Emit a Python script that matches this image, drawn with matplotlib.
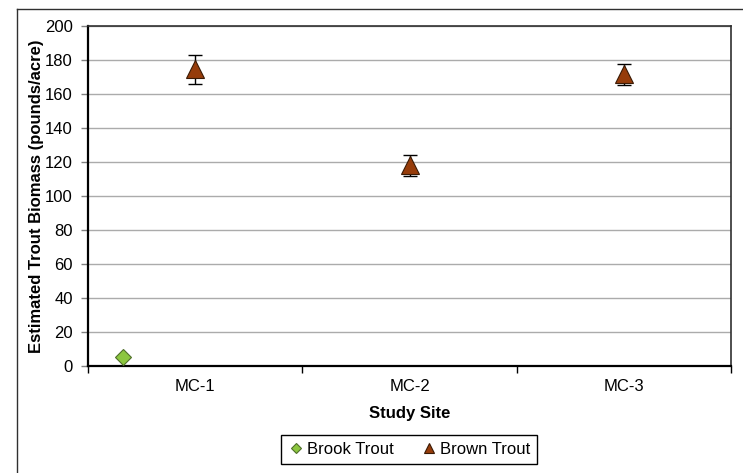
import matplotlib.pyplot as plt
from matplotlib.lines import Line2D
import numpy as np

plt.rcParams['font.family'] = ['Liberation Sans', 'DejaVu Sans']
plt.rcParams['font.size'] = 12

# --- Donnees ---
sites = ['MC-1', 'MC-2', 'MC-3']
brook_sites = ['MC-1']
brook_biomass = [5.5]
brown_biomass = [174.5, 118.0, 171.5]
brown_err = [8.5, 6.0, 6.0]
yticks = list(range(0, 201, 20))

# --- Figure ---
fig = plt.figure(figsize=(7.43, 4.73), dpi=100)
ax = fig.add_axes([0.1184, 0.2262, 0.8655, 0.7188])

x = np.arange(len(sites))
xb = np.array([sites.index(s) for s in brook_sites]) - 0.336  # decalage du point brook

ax.plot(xb, brook_biomass, linestyle='none', marker='D', markersize=8.5,
        markerfacecolor='#8CC63F', markeredgecolor='#4F6F2A', markeredgewidth=0.8,
        label='Brook Trout', zorder=4)
ax.errorbar(x, brown_biomass, yerr=brown_err, fmt='none', ecolor='black',
            elinewidth=1, capsize=5, capthick=1, zorder=3)
ax.plot(x, brown_biomass, linestyle='none', marker='^', markersize=12.5,
        markerfacecolor='#963C0A', markeredgecolor='#3A1A05', markeredgewidth=0.8,
        label='Brown Trout', zorder=4)

ax.set_xlim(-0.5, len(sites) - 0.5)
ax.set_ylim(0, 200)
ax.set_yticks(yticks)
ax.yaxis.grid(True, color='#ABABAB', linewidth=1)
ax.set_axisbelow(True)

ax.set_xticks(x)
ax.set_xticklabels(sites)
ax.set_xticks(np.arange(len(sites) + 1) - 0.5, minor=True)
ax.tick_params(axis='x', which='major', length=0, pad=9)
ax.tick_params(axis='x', which='minor', length=5, width=1, color='black', direction='out')
ax.tick_params(axis='y', length=5, width=1, color='#808080', pad=6)

for side in ['left', 'bottom']:
    ax.spines[side].set_linewidth(1.6)
    ax.spines[side].set_color('black')
for side in ['top', 'right']:
    ax.spines[side].set_linewidth(1.2)
    ax.spines[side].set_color('#303030')

ax.set_ylabel('Estimated Trout Biomass (pounds/acre)', fontweight='bold', va='center')
ax.yaxis.set_label_coords(-0.080, 0.5)
ax.set_xlabel('Study Site', fontweight='bold', va='center')
ax.xaxis.set_label_coords(0.5, -0.141)

leg = fig.legend(loc='center', bbox_to_anchor=(0.5505, 0.0497), ncol=2,
                 fancybox=False, edgecolor='black', markerscale=0.6,
                 handletextpad=0.15, columnspacing=1.6, borderpad=0.4,
                 handlelength=1.0, borderaxespad=0.3, framealpha=1)
leg.get_frame().set_linewidth(1)

# Bordure exterieure (gauche et haut)
fig.add_artist(Line2D([0.0229, 0.0229], [0, 0.981], color='#303030', linewidth=1))
fig.add_artist(Line2D([0.0229, 1], [0.981, 0.981], color='#303030', linewidth=1))

fig.savefig('out.png', dpi=100)
